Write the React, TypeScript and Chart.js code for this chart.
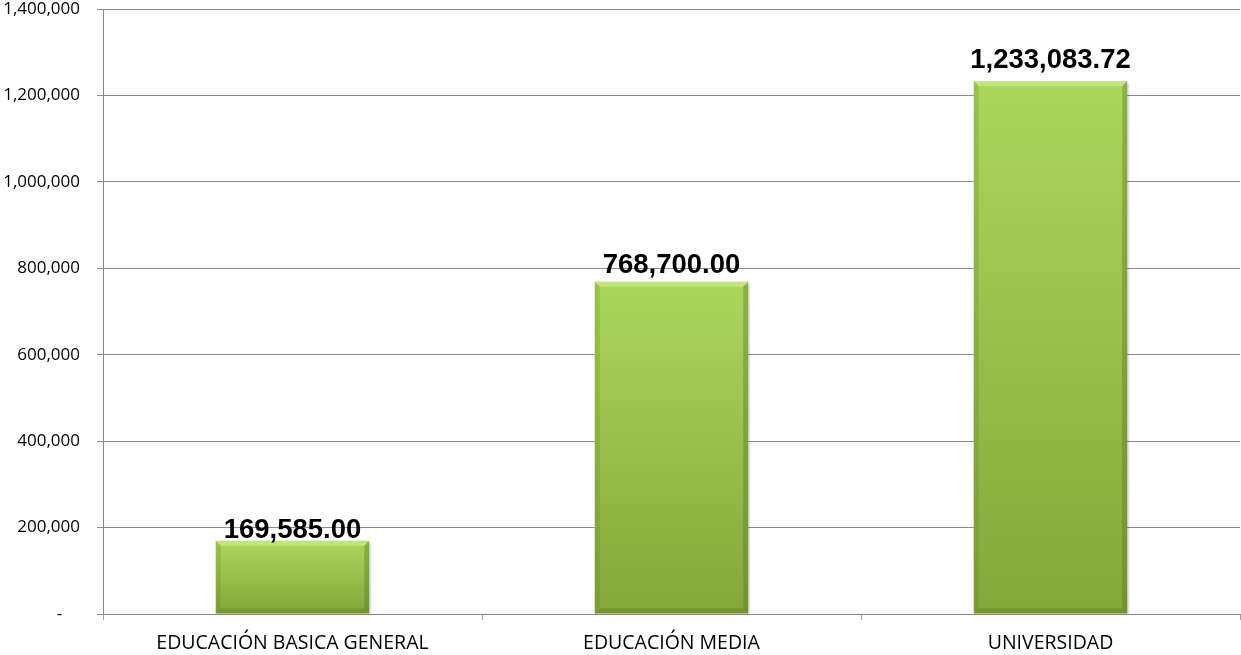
import React, { useEffect, useRef } from "react";
import { Chart, registerables } from "chart.js";

Chart.register(...registerables);

const categories: string[] = ["EDUCACIÓN BASICA GENERAL", "EDUCACIÓN MEDIA", "UNIVERSIDAD"];
const values: number[] = [169585.0, 768700.0, 1233083.72];
const valueLabels: string[] = ["169,585.00", "768,700.00", "1,233,083.72"];
const yTicks: number[] = [0, 200000, 400000, 600000, 800000, 1000000, 1200000, 1400000];

const fmtTick = (v: number) => (v === 0 ? "-    " : v.toLocaleString("en-US"));

const bevelPlugin = {
  id: "bevel",
  afterDatasetsDraw(chart: any) {
    const ctx = chart.ctx;
    const meta = chart.getDatasetMeta(0);
    meta.data.forEach((bar: any, i: number) => {
      const { x, y, base, width } = bar.getProps(["x", "y", "base", "width"], true);
      const l = x - width / 2;
      const r = x + width / 2;
      const b = 5;
      ctx.save();
      // top highlight
      ctx.beginPath();
      ctx.moveTo(l, y);
      ctx.lineTo(r, y);
      ctx.lineTo(r - b, y + b);
      ctx.lineTo(l + b, y + b);
      ctx.closePath();
      ctx.fillStyle = "rgba(215,240,150,0.55)";
      ctx.fill();
      // left edge
      ctx.beginPath();
      ctx.moveTo(l, y);
      ctx.lineTo(l + b, y + b);
      ctx.lineTo(l + b, base - b);
      ctx.lineTo(l, base);
      ctx.closePath();
      ctx.fillStyle = "rgba(90,120,30,0.22)";
      ctx.fill();
      // right edge
      ctx.beginPath();
      ctx.moveTo(r, y);
      ctx.lineTo(r - b, y + b);
      ctx.lineTo(r - b, base - b);
      ctx.lineTo(r, base);
      ctx.closePath();
      ctx.fillStyle = "rgba(80,110,25,0.35)";
      ctx.fill();
      // bottom edge
      ctx.beginPath();
      ctx.moveTo(l, base);
      ctx.lineTo(l + b, base - b);
      ctx.lineTo(r - b, base - b);
      ctx.lineTo(r, base);
      ctx.closePath();
      ctx.fillStyle = "rgba(80,110,25,0.3)";
      ctx.fill();
      // right shadow
      ctx.fillStyle = "rgba(0,0,0,0.12)";
      ctx.fillRect(r, y + 3, 2, base - y - 3);
      // label
      const h = base - y;
      const gap = 1.4 + 0.0217 * h;
      ctx.fillStyle = "#000";
      ctx.font = "bold 27.5px 'Liberation Sans', Arial, sans-serif";
      ctx.textAlign = "center";
      ctx.textBaseline = "alphabetic";
      ctx.fillText(valueLabels[i], x, y - gap);
      ctx.restore();
    });
  },
};

export default function App() {
  const ref = useRef<HTMLCanvasElement | null>(null);
  useEffect(() => {
    document.body.style.margin = "0";
    const canvas = ref.current;
    if (!canvas) return;
    const chart = new Chart(canvas, {
      type: "bar",
      data: {
        labels: categories,
        datasets: [
          {
            data: values,
            categoryPercentage: 1,
            barPercentage: 0.405,
            borderWidth: 0,
            backgroundColor: (c: any) => {
              const ch = c.chart;
              const ys = ch.scales?.y;
              if (!ys || c.dataIndex === undefined || c.type !== "data") return "#98c04a";
              const top = ys.getPixelForValue(values[c.dataIndex]);
              const bot = ys.getPixelForValue(0);
              if (!isFinite(top) || !isFinite(bot) || bot - top < 1) return "#98c04a";
              const g = ch.ctx.createLinearGradient(0, top, 0, bot);
              g.addColorStop(0, "#abd75c");
              g.addColorStop(1, "#85a63a");
              return g;
            },
          },
        ],
      },
      options: {
        animation: false,
        responsive: false,
        maintainAspectRatio: false,
        layout: { padding: { left: 0, right: 1, top: 9, bottom: 0 } },
        plugins: { legend: { display: false }, tooltip: { enabled: false } },
        scales: {
          x: {
            afterFit: (s: any) => {
              s.height = 41;
              s.paddingLeft = 0;
              s.paddingRight = 0;
            },
            grid: {
              display: true,
              drawOnChartArea: false,
              drawTicks: true,
              tickLength: 6,
              color: "#a0a0a0",
              offset: true,
            },
            border: { display: true, color: "#888888", width: 1 },
            ticks: {
              color: "#000",
              font: { family: "'Open Sans', sans-serif", size: 19.5 },
              padding: 12,
              maxRotation: 0,
            },
          },
          y: {
            min: 0,
            max: 1400000,
            afterBuildTicks: (s: any) => {
              s.ticks = yTicks.map((v) => ({ value: v }));
            },
            afterFit: (s: any) => {
              s.width = 103;
              s.paddingTop = 0;
              s.paddingBottom = 0;
            },
            grid: {
              color: "#8c8c8c",
              tickLength: 6,
              lineWidth: 1,
            },
            border: { display: true, color: "#888888", width: 1 },
            ticks: {
              color: "#000",
              font: { family: "'Open Sans', sans-serif", size: 17 },
              padding: 17,
              callback: (v: any) => fmtTick(Number(v)),
            },
          },
        },
      },
      plugins: [bevelPlugin],
    });
    return () => chart.destroy();
  }, []);
  return (
    <div style={{ width: 1241, height: 655 }}>
      <canvas ref={ref} width={1241} height={655} style={{ display: "block" }} />
    </div>
  );
}
